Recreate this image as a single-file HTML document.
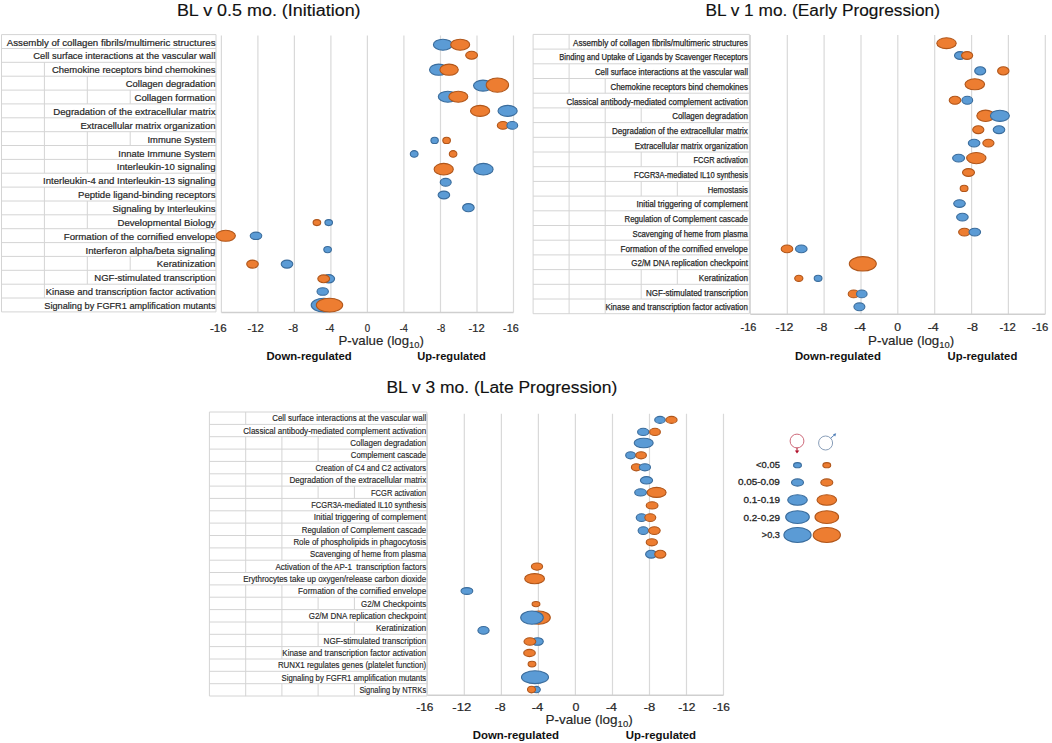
<!DOCTYPE html>
<html><head><meta charset="utf-8"><title>Bubble charts</title>
<style>
html,body{margin:0;padding:0;background:#fff;width:1052px;height:743px;overflow:hidden;}
svg{display:block;font-family:"Liberation Sans", sans-serif;}
</style></head>
<body>
<svg width="1052" height="743" viewBox="0 0 1052 743">
<rect x="0" y="0" width="1052" height="743" fill="#fff"/>
<text x="176.9" y="15.9" textLength="183.7" lengthAdjust="spacingAndGlyphs" font-size="17.3" font-weight="normal" fill="#111" stroke="#111" stroke-width="0.15" >BL v 0.5 mo. (Initiation)</text>
<text x="705.4" y="16.2" textLength="234.5" lengthAdjust="spacingAndGlyphs" font-size="17.3" font-weight="normal" fill="#111" stroke="#111" stroke-width="0.15" >BL v 1 mo. (Early Progression)</text>
<text x="386.4" y="392.8" textLength="230.9" lengthAdjust="spacingAndGlyphs" font-size="17.3" font-weight="normal" fill="#111" stroke="#111" stroke-width="0.15" >BL v 3 mo. (Late Progression)</text>
<line x1="1.5" y1="34.6" x2="216.0" y2="34.6" stroke="#D4D4D4" stroke-width="1"/>
<line x1="1.5" y1="48.5" x2="216.0" y2="48.5" stroke="#D4D4D4" stroke-width="1"/>
<line x1="1.5" y1="62.3" x2="216.0" y2="62.3" stroke="#D4D4D4" stroke-width="1"/>
<line x1="1.5" y1="76.2" x2="216.0" y2="76.2" stroke="#D4D4D4" stroke-width="1"/>
<line x1="1.5" y1="90.1" x2="216.0" y2="90.1" stroke="#D4D4D4" stroke-width="1"/>
<line x1="1.5" y1="103.9" x2="216.0" y2="103.9" stroke="#D4D4D4" stroke-width="1"/>
<line x1="1.5" y1="117.8" x2="216.0" y2="117.8" stroke="#D4D4D4" stroke-width="1"/>
<line x1="1.5" y1="131.7" x2="216.0" y2="131.7" stroke="#D4D4D4" stroke-width="1"/>
<line x1="1.5" y1="145.5" x2="216.0" y2="145.5" stroke="#D4D4D4" stroke-width="1"/>
<line x1="1.5" y1="159.4" x2="216.0" y2="159.4" stroke="#D4D4D4" stroke-width="1"/>
<line x1="1.5" y1="173.2" x2="216.0" y2="173.2" stroke="#D4D4D4" stroke-width="1"/>
<line x1="1.5" y1="187.1" x2="216.0" y2="187.1" stroke="#D4D4D4" stroke-width="1"/>
<line x1="1.5" y1="201.0" x2="216.0" y2="201.0" stroke="#D4D4D4" stroke-width="1"/>
<line x1="1.5" y1="214.8" x2="216.0" y2="214.8" stroke="#D4D4D4" stroke-width="1"/>
<line x1="1.5" y1="228.7" x2="216.0" y2="228.7" stroke="#D4D4D4" stroke-width="1"/>
<line x1="1.5" y1="242.6" x2="216.0" y2="242.6" stroke="#D4D4D4" stroke-width="1"/>
<line x1="1.5" y1="256.4" x2="216.0" y2="256.4" stroke="#D4D4D4" stroke-width="1"/>
<line x1="1.5" y1="270.3" x2="216.0" y2="270.3" stroke="#D4D4D4" stroke-width="1"/>
<line x1="1.5" y1="284.2" x2="216.0" y2="284.2" stroke="#D4D4D4" stroke-width="1"/>
<line x1="1.5" y1="298.0" x2="216.0" y2="298.0" stroke="#D4D4D4" stroke-width="1"/>
<line x1="1.5" y1="311.9" x2="216.0" y2="311.9" stroke="#D4D4D4" stroke-width="1"/>
<line x1="1.5" y1="34.6" x2="1.5" y2="311.9" stroke="#D4D4D4" stroke-width="1"/>
<line x1="216.0" y1="34.6" x2="216.0" y2="311.9" stroke="#D4D4D4" stroke-width="1"/>
<text x="6.8" y="45.6" textLength="208.7" lengthAdjust="spacingAndGlyphs" font-size="9.4" font-weight="normal" fill="#262626" stroke="#262626" stroke-width="0.2" >Assembly of collagen fibrils/multimeric structures</text>
<text x="33.3" y="59.4" textLength="182.2" lengthAdjust="spacingAndGlyphs" font-size="9.4" font-weight="normal" fill="#262626" stroke="#262626" stroke-width="0.2" >Cell surface interactions at the vascular wall</text>
<line x1="44.4" y1="62.3" x2="44.4" y2="76.2" stroke="#D4D4D4" stroke-width="1"/>
<text x="52.0" y="73.3" textLength="163.5" lengthAdjust="spacingAndGlyphs" font-size="9.4" font-weight="normal" fill="#262626" stroke="#262626" stroke-width="0.2" >Chemokine receptors bind chemokines</text>
<line x1="44.4" y1="76.2" x2="44.4" y2="90.1" stroke="#D4D4D4" stroke-width="1"/>
<line x1="87.3" y1="76.2" x2="87.3" y2="90.1" stroke="#D4D4D4" stroke-width="1"/>
<text x="125.8" y="87.2" textLength="89.7" lengthAdjust="spacingAndGlyphs" font-size="9.4" font-weight="normal" fill="#262626" stroke="#262626" stroke-width="0.2" >Collagen degradation</text>
<line x1="44.4" y1="90.1" x2="44.4" y2="103.9" stroke="#D4D4D4" stroke-width="1"/>
<line x1="87.3" y1="90.1" x2="87.3" y2="103.9" stroke="#D4D4D4" stroke-width="1"/>
<line x1="130.2" y1="90.1" x2="130.2" y2="103.9" stroke="#D4D4D4" stroke-width="1"/>
<text x="134.5" y="101.0" textLength="81.0" lengthAdjust="spacingAndGlyphs" font-size="9.4" font-weight="normal" fill="#262626" stroke="#262626" stroke-width="0.2" >Collagen formation</text>
<line x1="44.4" y1="103.9" x2="44.4" y2="117.8" stroke="#D4D4D4" stroke-width="1"/>
<text x="53.3" y="114.9" textLength="162.2" lengthAdjust="spacingAndGlyphs" font-size="9.4" font-weight="normal" fill="#262626" stroke="#262626" stroke-width="0.2" >Degradation of the extracellular matrix</text>
<line x1="44.4" y1="117.8" x2="44.4" y2="131.7" stroke="#D4D4D4" stroke-width="1"/>
<text x="80.5" y="128.8" textLength="135.0" lengthAdjust="spacingAndGlyphs" font-size="9.4" font-weight="normal" fill="#262626" stroke="#262626" stroke-width="0.2" >Extracellular matrix organization</text>
<line x1="44.4" y1="131.7" x2="44.4" y2="145.5" stroke="#D4D4D4" stroke-width="1"/>
<line x1="87.3" y1="131.7" x2="87.3" y2="145.5" stroke="#D4D4D4" stroke-width="1"/>
<line x1="130.2" y1="131.7" x2="130.2" y2="145.5" stroke="#D4D4D4" stroke-width="1"/>
<text x="147.5" y="142.6" textLength="68.0" lengthAdjust="spacingAndGlyphs" font-size="9.4" font-weight="normal" fill="#262626" stroke="#262626" stroke-width="0.2" >Immune System</text>
<line x1="44.4" y1="145.5" x2="44.4" y2="159.4" stroke="#D4D4D4" stroke-width="1"/>
<line x1="87.3" y1="145.5" x2="87.3" y2="159.4" stroke="#D4D4D4" stroke-width="1"/>
<text x="118.3" y="156.5" textLength="97.2" lengthAdjust="spacingAndGlyphs" font-size="9.4" font-weight="normal" fill="#262626" stroke="#262626" stroke-width="0.2" >Innate Immune System</text>
<line x1="44.4" y1="159.4" x2="44.4" y2="173.2" stroke="#D4D4D4" stroke-width="1"/>
<line x1="87.3" y1="159.4" x2="87.3" y2="173.2" stroke="#D4D4D4" stroke-width="1"/>
<text x="116.8" y="170.3" textLength="98.7" lengthAdjust="spacingAndGlyphs" font-size="9.4" font-weight="normal" fill="#262626" stroke="#262626" stroke-width="0.2" >Interleukin-10 signaling</text>
<text x="43.0" y="184.2" textLength="172.5" lengthAdjust="spacingAndGlyphs" font-size="9.4" font-weight="normal" fill="#262626" stroke="#262626" stroke-width="0.2" >Interleukin-4 and Interleukin-13 signaling</text>
<line x1="44.4" y1="187.1" x2="44.4" y2="201.0" stroke="#D4D4D4" stroke-width="1"/>
<text x="78.0" y="198.1" textLength="137.5" lengthAdjust="spacingAndGlyphs" font-size="9.4" font-weight="normal" fill="#262626" stroke="#262626" stroke-width="0.2" >Peptide ligand-binding receptors</text>
<line x1="44.4" y1="201.0" x2="44.4" y2="214.8" stroke="#D4D4D4" stroke-width="1"/>
<line x1="87.3" y1="201.0" x2="87.3" y2="214.8" stroke="#D4D4D4" stroke-width="1"/>
<text x="112.5" y="211.9" textLength="103.0" lengthAdjust="spacingAndGlyphs" font-size="9.4" font-weight="normal" fill="#262626" stroke="#262626" stroke-width="0.2" >Signaling by Interleukins</text>
<line x1="44.4" y1="214.8" x2="44.4" y2="228.7" stroke="#D4D4D4" stroke-width="1"/>
<line x1="87.3" y1="214.8" x2="87.3" y2="228.7" stroke="#D4D4D4" stroke-width="1"/>
<text x="117.5" y="225.8" textLength="98.0" lengthAdjust="spacingAndGlyphs" font-size="9.4" font-weight="normal" fill="#262626" stroke="#262626" stroke-width="0.2" >Developmental Biology</text>
<line x1="44.4" y1="228.7" x2="44.4" y2="242.6" stroke="#D4D4D4" stroke-width="1"/>
<text x="63.8" y="239.7" textLength="151.7" lengthAdjust="spacingAndGlyphs" font-size="9.4" font-weight="normal" fill="#262626" stroke="#262626" stroke-width="0.2" >Formation of the cornified envelope</text>
<line x1="44.4" y1="242.6" x2="44.4" y2="256.4" stroke="#D4D4D4" stroke-width="1"/>
<text x="85.5" y="253.5" textLength="130.0" lengthAdjust="spacingAndGlyphs" font-size="9.4" font-weight="normal" fill="#262626" stroke="#262626" stroke-width="0.2" >Interferon alpha/beta signaling</text>
<line x1="44.4" y1="256.4" x2="44.4" y2="270.3" stroke="#D4D4D4" stroke-width="1"/>
<line x1="87.3" y1="256.4" x2="87.3" y2="270.3" stroke="#D4D4D4" stroke-width="1"/>
<line x1="130.2" y1="256.4" x2="130.2" y2="270.3" stroke="#D4D4D4" stroke-width="1"/>
<text x="156.8" y="267.4" textLength="58.7" lengthAdjust="spacingAndGlyphs" font-size="9.4" font-weight="normal" fill="#262626" stroke="#262626" stroke-width="0.2" >Keratinization</text>
<line x1="44.4" y1="270.3" x2="44.4" y2="284.2" stroke="#D4D4D4" stroke-width="1"/>
<line x1="87.3" y1="270.3" x2="87.3" y2="284.2" stroke="#D4D4D4" stroke-width="1"/>
<text x="94.3" y="281.3" textLength="121.2" lengthAdjust="spacingAndGlyphs" font-size="9.4" font-weight="normal" fill="#262626" stroke="#262626" stroke-width="0.2" >NGF-stimulated transcription</text>
<line x1="44.4" y1="284.2" x2="44.4" y2="298.0" stroke="#D4D4D4" stroke-width="1"/>
<text x="45.8" y="295.1" textLength="169.7" lengthAdjust="spacingAndGlyphs" font-size="9.4" font-weight="normal" fill="#262626" stroke="#262626" stroke-width="0.2" >Kinase and transcription factor activation</text>
<text x="44.3" y="309.0" textLength="171.2" lengthAdjust="spacingAndGlyphs" font-size="9.4" font-weight="normal" fill="#262626" stroke="#262626" stroke-width="0.2" >Signaling by FGFR1 amplification mutants</text>
<line x1="533.1" y1="34.4" x2="749.4" y2="34.4" stroke="#D4D4D4" stroke-width="1"/>
<line x1="533.1" y1="49.1" x2="749.4" y2="49.1" stroke="#D4D4D4" stroke-width="1"/>
<line x1="533.1" y1="63.8" x2="749.4" y2="63.8" stroke="#D4D4D4" stroke-width="1"/>
<line x1="533.1" y1="78.5" x2="749.4" y2="78.5" stroke="#D4D4D4" stroke-width="1"/>
<line x1="533.1" y1="93.2" x2="749.4" y2="93.2" stroke="#D4D4D4" stroke-width="1"/>
<line x1="533.1" y1="107.9" x2="749.4" y2="107.9" stroke="#D4D4D4" stroke-width="1"/>
<line x1="533.1" y1="122.6" x2="749.4" y2="122.6" stroke="#D4D4D4" stroke-width="1"/>
<line x1="533.1" y1="137.3" x2="749.4" y2="137.3" stroke="#D4D4D4" stroke-width="1"/>
<line x1="533.1" y1="152.0" x2="749.4" y2="152.0" stroke="#D4D4D4" stroke-width="1"/>
<line x1="533.1" y1="166.7" x2="749.4" y2="166.7" stroke="#D4D4D4" stroke-width="1"/>
<line x1="533.1" y1="181.4" x2="749.4" y2="181.4" stroke="#D4D4D4" stroke-width="1"/>
<line x1="533.1" y1="196.1" x2="749.4" y2="196.1" stroke="#D4D4D4" stroke-width="1"/>
<line x1="533.1" y1="210.8" x2="749.4" y2="210.8" stroke="#D4D4D4" stroke-width="1"/>
<line x1="533.1" y1="225.5" x2="749.4" y2="225.5" stroke="#D4D4D4" stroke-width="1"/>
<line x1="533.1" y1="240.2" x2="749.4" y2="240.2" stroke="#D4D4D4" stroke-width="1"/>
<line x1="533.1" y1="254.9" x2="749.4" y2="254.9" stroke="#D4D4D4" stroke-width="1"/>
<line x1="533.1" y1="269.6" x2="749.4" y2="269.6" stroke="#D4D4D4" stroke-width="1"/>
<line x1="533.1" y1="284.3" x2="749.4" y2="284.3" stroke="#D4D4D4" stroke-width="1"/>
<line x1="533.1" y1="299.0" x2="749.4" y2="299.0" stroke="#D4D4D4" stroke-width="1"/>
<line x1="533.1" y1="313.7" x2="749.4" y2="313.7" stroke="#D4D4D4" stroke-width="1"/>
<line x1="533.1" y1="34.4" x2="533.1" y2="313.7" stroke="#D4D4D4" stroke-width="1"/>
<line x1="749.4" y1="34.4" x2="749.4" y2="313.7" stroke="#D4D4D4" stroke-width="1"/>
<line x1="569.1" y1="34.4" x2="569.1" y2="49.1" stroke="#D4D4D4" stroke-width="1"/>
<text x="573.1" y="45.7" textLength="174.8" lengthAdjust="spacingAndGlyphs" font-size="9.1" font-weight="normal" fill="#262626" stroke="#262626" stroke-width="0.25" >Assembly of collagen fibrils/multimeric structures</text>
<text x="559.3" y="60.4" textLength="188.6" lengthAdjust="spacingAndGlyphs" font-size="9.1" font-weight="normal" fill="#262626" stroke="#262626" stroke-width="0.25" >Binding and Uptake of Ligands by Scavenger Receptors</text>
<line x1="569.1" y1="63.8" x2="569.1" y2="78.5" stroke="#D4D4D4" stroke-width="1"/>
<text x="594.9" y="75.1" textLength="153.0" lengthAdjust="spacingAndGlyphs" font-size="9.1" font-weight="normal" fill="#262626" stroke="#262626" stroke-width="0.25" >Cell surface interactions at the vascular wall</text>
<line x1="569.1" y1="78.5" x2="569.1" y2="93.2" stroke="#D4D4D4" stroke-width="1"/>
<line x1="605.2" y1="78.5" x2="605.2" y2="93.2" stroke="#D4D4D4" stroke-width="1"/>
<text x="610.4" y="89.8" textLength="137.5" lengthAdjust="spacingAndGlyphs" font-size="9.1" font-weight="normal" fill="#262626" stroke="#262626" stroke-width="0.25" >Chemokine receptors bind chemokines</text>
<text x="566.4" y="104.5" textLength="181.5" lengthAdjust="spacingAndGlyphs" font-size="9.1" font-weight="normal" fill="#262626" stroke="#262626" stroke-width="0.25" >Classical antibody-mediated complement activation</text>
<line x1="569.1" y1="107.9" x2="569.1" y2="122.6" stroke="#D4D4D4" stroke-width="1"/>
<line x1="605.2" y1="107.9" x2="605.2" y2="122.6" stroke="#D4D4D4" stroke-width="1"/>
<line x1="641.2" y1="107.9" x2="641.2" y2="122.6" stroke="#D4D4D4" stroke-width="1"/>
<text x="672.2" y="119.2" textLength="75.7" lengthAdjust="spacingAndGlyphs" font-size="9.1" font-weight="normal" fill="#262626" stroke="#262626" stroke-width="0.25" >Collagen degradation</text>
<line x1="569.1" y1="122.6" x2="569.1" y2="137.3" stroke="#D4D4D4" stroke-width="1"/>
<line x1="605.2" y1="122.6" x2="605.2" y2="137.3" stroke="#D4D4D4" stroke-width="1"/>
<text x="612.0" y="133.9" textLength="135.9" lengthAdjust="spacingAndGlyphs" font-size="9.1" font-weight="normal" fill="#262626" stroke="#262626" stroke-width="0.25" >Degradation of the extracellular matrix</text>
<line x1="569.1" y1="137.3" x2="569.1" y2="152.0" stroke="#D4D4D4" stroke-width="1"/>
<line x1="605.2" y1="137.3" x2="605.2" y2="152.0" stroke="#D4D4D4" stroke-width="1"/>
<text x="634.8" y="148.6" textLength="113.1" lengthAdjust="spacingAndGlyphs" font-size="9.1" font-weight="normal" fill="#262626" stroke="#262626" stroke-width="0.25" >Extracellular matrix organization</text>
<line x1="569.1" y1="152.0" x2="569.1" y2="166.7" stroke="#D4D4D4" stroke-width="1"/>
<line x1="605.2" y1="152.0" x2="605.2" y2="166.7" stroke="#D4D4D4" stroke-width="1"/>
<line x1="641.2" y1="152.0" x2="641.2" y2="166.7" stroke="#D4D4D4" stroke-width="1"/>
<line x1="677.3" y1="152.0" x2="677.3" y2="166.7" stroke="#D4D4D4" stroke-width="1"/>
<text x="693.5" y="163.3" textLength="54.4" lengthAdjust="spacingAndGlyphs" font-size="9.1" font-weight="normal" fill="#262626" stroke="#262626" stroke-width="0.25" >FCGR activation</text>
<line x1="569.1" y1="166.7" x2="569.1" y2="181.4" stroke="#D4D4D4" stroke-width="1"/>
<line x1="605.2" y1="166.7" x2="605.2" y2="181.4" stroke="#D4D4D4" stroke-width="1"/>
<text x="634.1" y="178.0" textLength="113.8" lengthAdjust="spacingAndGlyphs" font-size="9.1" font-weight="normal" fill="#262626" stroke="#262626" stroke-width="0.25" >FCGR3A-mediated IL10 synthesis</text>
<line x1="569.1" y1="181.4" x2="569.1" y2="196.1" stroke="#D4D4D4" stroke-width="1"/>
<line x1="605.2" y1="181.4" x2="605.2" y2="196.1" stroke="#D4D4D4" stroke-width="1"/>
<line x1="641.2" y1="181.4" x2="641.2" y2="196.1" stroke="#D4D4D4" stroke-width="1"/>
<line x1="677.3" y1="181.4" x2="677.3" y2="196.1" stroke="#D4D4D4" stroke-width="1"/>
<text x="707.8" y="192.7" textLength="40.1" lengthAdjust="spacingAndGlyphs" font-size="9.1" font-weight="normal" fill="#262626" stroke="#262626" stroke-width="0.25" >Hemostasis</text>
<line x1="569.1" y1="196.1" x2="569.1" y2="210.8" stroke="#D4D4D4" stroke-width="1"/>
<line x1="605.2" y1="196.1" x2="605.2" y2="210.8" stroke="#D4D4D4" stroke-width="1"/>
<text x="636.5" y="207.4" textLength="111.4" lengthAdjust="spacingAndGlyphs" font-size="9.1" font-weight="normal" fill="#262626" stroke="#262626" stroke-width="0.25" >Initial triggering of complement</text>
<line x1="569.1" y1="210.8" x2="569.1" y2="225.5" stroke="#D4D4D4" stroke-width="1"/>
<line x1="605.2" y1="210.8" x2="605.2" y2="225.5" stroke="#D4D4D4" stroke-width="1"/>
<text x="624.6" y="222.1" textLength="123.3" lengthAdjust="spacingAndGlyphs" font-size="9.1" font-weight="normal" fill="#262626" stroke="#262626" stroke-width="0.25" >Regulation of Complement cascade</text>
<line x1="569.1" y1="225.5" x2="569.1" y2="240.2" stroke="#D4D4D4" stroke-width="1"/>
<line x1="605.2" y1="225.5" x2="605.2" y2="240.2" stroke="#D4D4D4" stroke-width="1"/>
<text x="632.5" y="236.8" textLength="115.4" lengthAdjust="spacingAndGlyphs" font-size="9.1" font-weight="normal" fill="#262626" stroke="#262626" stroke-width="0.25" >Scavenging of heme from plasma</text>
<line x1="569.1" y1="240.2" x2="569.1" y2="254.9" stroke="#D4D4D4" stroke-width="1"/>
<line x1="605.2" y1="240.2" x2="605.2" y2="254.9" stroke="#D4D4D4" stroke-width="1"/>
<text x="620.6" y="251.5" textLength="127.3" lengthAdjust="spacingAndGlyphs" font-size="9.1" font-weight="normal" fill="#262626" stroke="#262626" stroke-width="0.25" >Formation of the cornified envelope</text>
<line x1="569.1" y1="254.9" x2="569.1" y2="269.6" stroke="#D4D4D4" stroke-width="1"/>
<line x1="605.2" y1="254.9" x2="605.2" y2="269.6" stroke="#D4D4D4" stroke-width="1"/>
<text x="631.3" y="266.2" textLength="116.6" lengthAdjust="spacingAndGlyphs" font-size="9.1" font-weight="normal" fill="#262626" stroke="#262626" stroke-width="0.25" >G2/M DNA replication checkpoint</text>
<line x1="569.1" y1="269.6" x2="569.1" y2="284.3" stroke="#D4D4D4" stroke-width="1"/>
<line x1="605.2" y1="269.6" x2="605.2" y2="284.3" stroke="#D4D4D4" stroke-width="1"/>
<line x1="641.2" y1="269.6" x2="641.2" y2="284.3" stroke="#D4D4D4" stroke-width="1"/>
<line x1="677.3" y1="269.6" x2="677.3" y2="284.3" stroke="#D4D4D4" stroke-width="1"/>
<text x="698.8" y="280.9" textLength="49.1" lengthAdjust="spacingAndGlyphs" font-size="9.1" font-weight="normal" fill="#262626" stroke="#262626" stroke-width="0.25" >Keratinization</text>
<line x1="569.1" y1="284.3" x2="569.1" y2="299.0" stroke="#D4D4D4" stroke-width="1"/>
<line x1="605.2" y1="284.3" x2="605.2" y2="299.0" stroke="#D4D4D4" stroke-width="1"/>
<line x1="641.2" y1="284.3" x2="641.2" y2="299.0" stroke="#D4D4D4" stroke-width="1"/>
<text x="646.0" y="295.6" textLength="101.9" lengthAdjust="spacingAndGlyphs" font-size="9.1" font-weight="normal" fill="#262626" stroke="#262626" stroke-width="0.25" >NGF-stimulated transcription</text>
<line x1="569.1" y1="299.0" x2="569.1" y2="313.7" stroke="#D4D4D4" stroke-width="1"/>
<line x1="605.2" y1="299.0" x2="605.2" y2="313.7" stroke="#D4D4D4" stroke-width="1"/>
<text x="605.6" y="310.3" textLength="142.3" lengthAdjust="spacingAndGlyphs" font-size="9.1" font-weight="normal" fill="#262626" stroke="#262626" stroke-width="0.25" >Kinase and transcription factor activation</text>
<line x1="209.4" y1="412.0" x2="426.9" y2="412.0" stroke="#D4D4D4" stroke-width="1"/>
<line x1="209.4" y1="424.4" x2="426.9" y2="424.4" stroke="#D4D4D4" stroke-width="1"/>
<line x1="209.4" y1="436.7" x2="426.9" y2="436.7" stroke="#D4D4D4" stroke-width="1"/>
<line x1="209.4" y1="449.1" x2="426.9" y2="449.1" stroke="#D4D4D4" stroke-width="1"/>
<line x1="209.4" y1="461.4" x2="426.9" y2="461.4" stroke="#D4D4D4" stroke-width="1"/>
<line x1="209.4" y1="473.8" x2="426.9" y2="473.8" stroke="#D4D4D4" stroke-width="1"/>
<line x1="209.4" y1="486.1" x2="426.9" y2="486.1" stroke="#D4D4D4" stroke-width="1"/>
<line x1="209.4" y1="498.4" x2="426.9" y2="498.4" stroke="#D4D4D4" stroke-width="1"/>
<line x1="209.4" y1="510.8" x2="426.9" y2="510.8" stroke="#D4D4D4" stroke-width="1"/>
<line x1="209.4" y1="523.1" x2="426.9" y2="523.1" stroke="#D4D4D4" stroke-width="1"/>
<line x1="209.4" y1="535.5" x2="426.9" y2="535.5" stroke="#D4D4D4" stroke-width="1"/>
<line x1="209.4" y1="547.9" x2="426.9" y2="547.9" stroke="#D4D4D4" stroke-width="1"/>
<line x1="209.4" y1="560.2" x2="426.9" y2="560.2" stroke="#D4D4D4" stroke-width="1"/>
<line x1="209.4" y1="572.5" x2="426.9" y2="572.5" stroke="#D4D4D4" stroke-width="1"/>
<line x1="209.4" y1="584.9" x2="426.9" y2="584.9" stroke="#D4D4D4" stroke-width="1"/>
<line x1="209.4" y1="597.2" x2="426.9" y2="597.2" stroke="#D4D4D4" stroke-width="1"/>
<line x1="209.4" y1="609.6" x2="426.9" y2="609.6" stroke="#D4D4D4" stroke-width="1"/>
<line x1="209.4" y1="622.0" x2="426.9" y2="622.0" stroke="#D4D4D4" stroke-width="1"/>
<line x1="209.4" y1="634.3" x2="426.9" y2="634.3" stroke="#D4D4D4" stroke-width="1"/>
<line x1="209.4" y1="646.6" x2="426.9" y2="646.6" stroke="#D4D4D4" stroke-width="1"/>
<line x1="209.4" y1="659.0" x2="426.9" y2="659.0" stroke="#D4D4D4" stroke-width="1"/>
<line x1="209.4" y1="671.3" x2="426.9" y2="671.3" stroke="#D4D4D4" stroke-width="1"/>
<line x1="209.4" y1="683.7" x2="426.9" y2="683.7" stroke="#D4D4D4" stroke-width="1"/>
<line x1="209.4" y1="696.0" x2="426.9" y2="696.0" stroke="#D4D4D4" stroke-width="1"/>
<line x1="209.4" y1="412.0" x2="209.4" y2="696.0" stroke="#D4D4D4" stroke-width="1"/>
<line x1="426.9" y1="412.0" x2="426.9" y2="696.0" stroke="#D4D4D4" stroke-width="1"/>
<line x1="245.7" y1="412.0" x2="245.7" y2="424.4" stroke="#D4D4D4" stroke-width="1"/>
<text x="272.2" y="421.4" textLength="154.0" lengthAdjust="spacingAndGlyphs" font-size="8.5" font-weight="normal" fill="#262626" stroke="#262626" stroke-width="0.15" >Cell surface interactions at the vascular wall</text>
<text x="243.3" y="433.7" textLength="182.9" lengthAdjust="spacingAndGlyphs" font-size="8.5" font-weight="normal" fill="#262626" stroke="#262626" stroke-width="0.15" >Classical antibody-mediated complement activation</text>
<line x1="245.7" y1="436.7" x2="245.7" y2="449.1" stroke="#D4D4D4" stroke-width="1"/>
<line x1="281.9" y1="436.7" x2="281.9" y2="449.1" stroke="#D4D4D4" stroke-width="1"/>
<line x1="318.1" y1="436.7" x2="318.1" y2="449.1" stroke="#D4D4D4" stroke-width="1"/>
<text x="350.3" y="446.1" textLength="75.9" lengthAdjust="spacingAndGlyphs" font-size="8.5" font-weight="normal" fill="#262626" stroke="#262626" stroke-width="0.15" >Collagen degradation</text>
<line x1="245.7" y1="449.1" x2="245.7" y2="461.4" stroke="#D4D4D4" stroke-width="1"/>
<line x1="281.9" y1="449.1" x2="281.9" y2="461.4" stroke="#D4D4D4" stroke-width="1"/>
<line x1="318.1" y1="449.1" x2="318.1" y2="461.4" stroke="#D4D4D4" stroke-width="1"/>
<text x="350.8" y="458.4" textLength="75.4" lengthAdjust="spacingAndGlyphs" font-size="8.5" font-weight="normal" fill="#262626" stroke="#262626" stroke-width="0.15" >Complement cascade</text>
<line x1="245.7" y1="461.4" x2="245.7" y2="473.8" stroke="#D4D4D4" stroke-width="1"/>
<line x1="281.9" y1="461.4" x2="281.9" y2="473.8" stroke="#D4D4D4" stroke-width="1"/>
<text x="315.4" y="470.8" textLength="110.8" lengthAdjust="spacingAndGlyphs" font-size="8.5" font-weight="normal" fill="#262626" stroke="#262626" stroke-width="0.15" >Creation of C4 and C2 activators</text>
<line x1="245.7" y1="473.8" x2="245.7" y2="486.1" stroke="#D4D4D4" stroke-width="1"/>
<line x1="281.9" y1="473.8" x2="281.9" y2="486.1" stroke="#D4D4D4" stroke-width="1"/>
<text x="289.5" y="483.1" textLength="136.7" lengthAdjust="spacingAndGlyphs" font-size="8.5" font-weight="normal" fill="#262626" stroke="#262626" stroke-width="0.15" >Degradation of the extracellular matrix</text>
<line x1="245.7" y1="486.1" x2="245.7" y2="498.5" stroke="#D4D4D4" stroke-width="1"/>
<line x1="281.9" y1="486.1" x2="281.9" y2="498.5" stroke="#D4D4D4" stroke-width="1"/>
<line x1="318.1" y1="486.1" x2="318.1" y2="498.5" stroke="#D4D4D4" stroke-width="1"/>
<line x1="354.4" y1="486.1" x2="354.4" y2="498.5" stroke="#D4D4D4" stroke-width="1"/>
<text x="371.0" y="495.5" textLength="55.2" lengthAdjust="spacingAndGlyphs" font-size="8.5" font-weight="normal" fill="#262626" stroke="#262626" stroke-width="0.15" >FCGR activation</text>
<line x1="245.7" y1="498.4" x2="245.7" y2="510.8" stroke="#D4D4D4" stroke-width="1"/>
<line x1="281.9" y1="498.4" x2="281.9" y2="510.8" stroke="#D4D4D4" stroke-width="1"/>
<text x="311.2" y="507.8" textLength="115.0" lengthAdjust="spacingAndGlyphs" font-size="8.5" font-weight="normal" fill="#262626" stroke="#262626" stroke-width="0.15" >FCGR3A-mediated IL10 synthesis</text>
<line x1="245.7" y1="510.8" x2="245.7" y2="523.1" stroke="#D4D4D4" stroke-width="1"/>
<line x1="281.9" y1="510.8" x2="281.9" y2="523.1" stroke="#D4D4D4" stroke-width="1"/>
<text x="313.7" y="520.1" textLength="112.5" lengthAdjust="spacingAndGlyphs" font-size="8.5" font-weight="normal" fill="#262626" stroke="#262626" stroke-width="0.15" >Initial triggering of complement</text>
<line x1="245.7" y1="523.1" x2="245.7" y2="535.5" stroke="#D4D4D4" stroke-width="1"/>
<line x1="281.9" y1="523.1" x2="281.9" y2="535.5" stroke="#D4D4D4" stroke-width="1"/>
<text x="301.8" y="532.5" textLength="124.4" lengthAdjust="spacingAndGlyphs" font-size="8.5" font-weight="normal" fill="#262626" stroke="#262626" stroke-width="0.15" >Regulation of Complement cascade</text>
<line x1="245.7" y1="535.5" x2="245.7" y2="547.9" stroke="#D4D4D4" stroke-width="1"/>
<line x1="281.9" y1="535.5" x2="281.9" y2="547.9" stroke="#D4D4D4" stroke-width="1"/>
<text x="293.4" y="544.9" textLength="132.8" lengthAdjust="spacingAndGlyphs" font-size="8.5" font-weight="normal" fill="#262626" stroke="#262626" stroke-width="0.15" >Role of phospholipids in phagocytosis</text>
<line x1="245.7" y1="547.9" x2="245.7" y2="560.2" stroke="#D4D4D4" stroke-width="1"/>
<line x1="281.9" y1="547.9" x2="281.9" y2="560.2" stroke="#D4D4D4" stroke-width="1"/>
<text x="310.0" y="557.2" textLength="116.2" lengthAdjust="spacingAndGlyphs" font-size="8.5" font-weight="normal" fill="#262626" stroke="#262626" stroke-width="0.15" >Scavenging of heme from plasma</text>
<line x1="245.7" y1="560.2" x2="245.7" y2="572.6" stroke="#D4D4D4" stroke-width="1"/>
<text x="275.4" y="569.6" textLength="150.8" lengthAdjust="spacingAndGlyphs" font-size="8.5" font-weight="normal" fill="#262626" stroke="#262626" stroke-width="0.15" >Activation of the AP-1&#160; transcription factors</text>
<text x="243.3" y="581.9" textLength="182.9" lengthAdjust="spacingAndGlyphs" font-size="8.5" font-weight="normal" fill="#262626" stroke="#262626" stroke-width="0.15" >Erythrocytes take up oxygen/release carbon dioxide</text>
<line x1="245.7" y1="584.9" x2="245.7" y2="597.2" stroke="#D4D4D4" stroke-width="1"/>
<line x1="281.9" y1="584.9" x2="281.9" y2="597.2" stroke="#D4D4D4" stroke-width="1"/>
<text x="298.1" y="594.2" textLength="128.1" lengthAdjust="spacingAndGlyphs" font-size="8.5" font-weight="normal" fill="#262626" stroke="#262626" stroke-width="0.15" >Formation of the cornified envelope</text>
<line x1="245.7" y1="597.2" x2="245.7" y2="609.6" stroke="#D4D4D4" stroke-width="1"/>
<line x1="281.9" y1="597.2" x2="281.9" y2="609.6" stroke="#D4D4D4" stroke-width="1"/>
<line x1="318.1" y1="597.2" x2="318.1" y2="609.6" stroke="#D4D4D4" stroke-width="1"/>
<line x1="354.4" y1="597.2" x2="354.4" y2="609.6" stroke="#D4D4D4" stroke-width="1"/>
<text x="361.1" y="606.6" textLength="65.1" lengthAdjust="spacingAndGlyphs" font-size="8.5" font-weight="normal" fill="#262626" stroke="#262626" stroke-width="0.15" >G2/M Checkpoints</text>
<line x1="245.7" y1="609.6" x2="245.7" y2="622.0" stroke="#D4D4D4" stroke-width="1"/>
<line x1="281.9" y1="609.6" x2="281.9" y2="622.0" stroke="#D4D4D4" stroke-width="1"/>
<text x="308.7" y="619.0" textLength="117.5" lengthAdjust="spacingAndGlyphs" font-size="8.5" font-weight="normal" fill="#262626" stroke="#262626" stroke-width="0.15" >G2/M DNA replication checkpoint</text>
<line x1="245.7" y1="622.0" x2="245.7" y2="634.3" stroke="#D4D4D4" stroke-width="1"/>
<line x1="281.9" y1="622.0" x2="281.9" y2="634.3" stroke="#D4D4D4" stroke-width="1"/>
<line x1="318.1" y1="622.0" x2="318.1" y2="634.3" stroke="#D4D4D4" stroke-width="1"/>
<line x1="354.4" y1="622.0" x2="354.4" y2="634.3" stroke="#D4D4D4" stroke-width="1"/>
<text x="376.0" y="631.3" textLength="50.2" lengthAdjust="spacingAndGlyphs" font-size="8.5" font-weight="normal" fill="#262626" stroke="#262626" stroke-width="0.15" >Keratinization</text>
<line x1="245.7" y1="634.3" x2="245.7" y2="646.6" stroke="#D4D4D4" stroke-width="1"/>
<line x1="281.9" y1="634.3" x2="281.9" y2="646.6" stroke="#D4D4D4" stroke-width="1"/>
<line x1="318.1" y1="634.3" x2="318.1" y2="646.6" stroke="#D4D4D4" stroke-width="1"/>
<text x="323.6" y="643.6" textLength="102.6" lengthAdjust="spacingAndGlyphs" font-size="8.5" font-weight="normal" fill="#262626" stroke="#262626" stroke-width="0.15" >NGF-stimulated transcription</text>
<line x1="245.7" y1="646.6" x2="245.7" y2="659.0" stroke="#D4D4D4" stroke-width="1"/>
<line x1="281.9" y1="646.6" x2="281.9" y2="659.0" stroke="#D4D4D4" stroke-width="1"/>
<text x="282.3" y="656.0" textLength="143.9" lengthAdjust="spacingAndGlyphs" font-size="8.5" font-weight="normal" fill="#262626" stroke="#262626" stroke-width="0.15" >Kinase and transcription factor activation</text>
<line x1="245.7" y1="659.0" x2="245.7" y2="671.4" stroke="#D4D4D4" stroke-width="1"/>
<text x="277.9" y="668.4" textLength="148.3" lengthAdjust="spacingAndGlyphs" font-size="8.5" font-weight="normal" fill="#262626" stroke="#262626" stroke-width="0.15" >RUNX1 regulates genes (platelet function)</text>
<line x1="245.7" y1="671.3" x2="245.7" y2="683.7" stroke="#D4D4D4" stroke-width="1"/>
<text x="281.6" y="680.7" textLength="144.6" lengthAdjust="spacingAndGlyphs" font-size="8.5" font-weight="normal" fill="#262626" stroke="#262626" stroke-width="0.15" >Signaling by FGFR1 amplification mutants</text>
<line x1="245.7" y1="683.7" x2="245.7" y2="696.1" stroke="#D4D4D4" stroke-width="1"/>
<line x1="281.9" y1="683.7" x2="281.9" y2="696.1" stroke="#D4D4D4" stroke-width="1"/>
<line x1="318.1" y1="683.7" x2="318.1" y2="696.1" stroke="#D4D4D4" stroke-width="1"/>
<line x1="354.4" y1="683.7" x2="354.4" y2="696.1" stroke="#D4D4D4" stroke-width="1"/>
<text x="359.4" y="693.1" textLength="66.8" lengthAdjust="spacingAndGlyphs" font-size="8.5" font-weight="normal" fill="#262626" stroke="#262626" stroke-width="0.15" >Signaling by NTRKs</text>
<line x1="221.4" y1="35.5" x2="221.4" y2="312.4" stroke="#D9D9D9" stroke-width="1.2"/>
<line x1="257.9" y1="35.5" x2="257.9" y2="312.4" stroke="#D9D9D9" stroke-width="1.2"/>
<line x1="294.4" y1="35.5" x2="294.4" y2="312.4" stroke="#D9D9D9" stroke-width="1.2"/>
<line x1="330.9" y1="35.5" x2="330.9" y2="312.4" stroke="#D9D9D9" stroke-width="1.2"/>
<line x1="367.4" y1="35.5" x2="367.4" y2="312.4" stroke="#D9D9D9" stroke-width="1.2"/>
<line x1="403.9" y1="35.5" x2="403.9" y2="312.4" stroke="#D9D9D9" stroke-width="1.2"/>
<line x1="440.5" y1="35.5" x2="440.5" y2="312.4" stroke="#D9D9D9" stroke-width="1.2"/>
<line x1="477.0" y1="35.5" x2="477.0" y2="312.4" stroke="#D9D9D9" stroke-width="1.2"/>
<line x1="513.5" y1="35.5" x2="513.5" y2="312.4" stroke="#D9D9D9" stroke-width="1.2"/>
<line x1="221.4" y1="312.4" x2="513.5" y2="312.4" stroke="#CFCFCF" stroke-width="1.5"/>
<ellipse cx="442.9" cy="44.7" rx="9.5" ry="5.5" fill="#5B9BD5" stroke="#3A6C9C" stroke-width="1.1"/>
<ellipse cx="460.2" cy="44.7" rx="9.5" ry="5.5" fill="#ED7D31" stroke="#B0561A" stroke-width="1.1"/>
<ellipse cx="471.6" cy="55.2" rx="5.9" ry="4.0" fill="#ED7D31" stroke="#B0561A" stroke-width="1.1"/>
<ellipse cx="438.7" cy="69.7" rx="9.2" ry="5.6" fill="#5B9BD5" stroke="#3A6C9C" stroke-width="1.1"/>
<ellipse cx="449.1" cy="69.7" rx="9.2" ry="5.6" fill="#ED7D31" stroke="#B0561A" stroke-width="1.1"/>
<ellipse cx="483.0" cy="85.6" rx="9.5" ry="5.5" fill="#5B9BD5" stroke="#3A6C9C" stroke-width="1.1"/>
<ellipse cx="497.4" cy="85.1" rx="11.2" ry="7.1" fill="#ED7D31" stroke="#B0561A" stroke-width="1.1"/>
<ellipse cx="447.8" cy="96.7" rx="9.5" ry="5.5" fill="#5B9BD5" stroke="#3A6C9C" stroke-width="1.1"/>
<ellipse cx="458.3" cy="96.7" rx="9.5" ry="5.5" fill="#ED7D31" stroke="#B0561A" stroke-width="1.1"/>
<ellipse cx="480.1" cy="110.9" rx="9.6" ry="5.5" fill="#ED7D31" stroke="#B0561A" stroke-width="1.1"/>
<ellipse cx="507.6" cy="110.9" rx="9.6" ry="5.5" fill="#5B9BD5" stroke="#3A6C9C" stroke-width="1.1"/>
<ellipse cx="502.9" cy="125.4" rx="5.6" ry="3.9" fill="#ED7D31" stroke="#B0561A" stroke-width="1.1"/>
<ellipse cx="512.3" cy="125.4" rx="5.4" ry="3.9" fill="#5B9BD5" stroke="#3A6C9C" stroke-width="1.1"/>
<ellipse cx="434.6" cy="140.4" rx="3.7" ry="3.1" fill="#5B9BD5" stroke="#3A6C9C" stroke-width="1.1"/>
<ellipse cx="446.6" cy="140.4" rx="3.8" ry="3.1" fill="#ED7D31" stroke="#B0561A" stroke-width="1.1"/>
<ellipse cx="414.2" cy="153.9" rx="3.9" ry="3.3" fill="#5B9BD5" stroke="#3A6C9C" stroke-width="1.1"/>
<ellipse cx="453.1" cy="153.9" rx="3.8" ry="3.3" fill="#ED7D31" stroke="#B0561A" stroke-width="1.1"/>
<ellipse cx="443.7" cy="169.2" rx="9.6" ry="5.8" fill="#ED7D31" stroke="#B0561A" stroke-width="1.1"/>
<ellipse cx="483.4" cy="169.2" rx="9.7" ry="5.8" fill="#5B9BD5" stroke="#3A6C9C" stroke-width="1.1"/>
<ellipse cx="445.7" cy="182.3" rx="5.5" ry="3.9" fill="#5B9BD5" stroke="#3A6C9C" stroke-width="1.1"/>
<ellipse cx="443.9" cy="195.0" rx="5.8" ry="3.9" fill="#5B9BD5" stroke="#3A6C9C" stroke-width="1.1"/>
<ellipse cx="468.4" cy="207.7" rx="5.8" ry="4.1" fill="#5B9BD5" stroke="#3A6C9C" stroke-width="1.1"/>
<ellipse cx="316.9" cy="222.6" rx="3.8" ry="3.0" fill="#ED7D31" stroke="#B0561A" stroke-width="1.1"/>
<ellipse cx="328.7" cy="222.6" rx="3.8" ry="3.0" fill="#5B9BD5" stroke="#3A6C9C" stroke-width="1.1"/>
<ellipse cx="225.7" cy="235.8" rx="9.7" ry="5.5" fill="#ED7D31" stroke="#B0561A" stroke-width="1.1"/>
<ellipse cx="256.0" cy="235.8" rx="5.8" ry="3.7" fill="#5B9BD5" stroke="#3A6C9C" stroke-width="1.1"/>
<ellipse cx="327.6" cy="249.6" rx="3.8" ry="3.1" fill="#5B9BD5" stroke="#3A6C9C" stroke-width="1.1"/>
<ellipse cx="252.5" cy="264.1" rx="5.8" ry="4.0" fill="#ED7D31" stroke="#B0561A" stroke-width="1.1"/>
<ellipse cx="287.0" cy="264.1" rx="5.8" ry="4.0" fill="#5B9BD5" stroke="#3A6C9C" stroke-width="1.1"/>
<ellipse cx="328.8" cy="278.8" rx="5.8" ry="4.2" fill="#5B9BD5" stroke="#3A6C9C" stroke-width="1.1"/>
<ellipse cx="323.7" cy="278.8" rx="5.9" ry="3.9" fill="#ED7D31" stroke="#B0561A" stroke-width="1.1"/>
<ellipse cx="322.7" cy="291.5" rx="5.7" ry="3.8" fill="#5B9BD5" stroke="#3A6C9C" stroke-width="1.1"/>
<ellipse cx="323.8" cy="305.1" rx="12.6" ry="6.8" fill="#5B9BD5" stroke="#3A6C9C" stroke-width="1.1"/>
<ellipse cx="329.5" cy="305.1" rx="13.2" ry="6.9" fill="#ED7D31" stroke="#B0561A" stroke-width="1.1"/>
<text x="210.0" y="332.1" textLength="16.7" lengthAdjust="spacingAndGlyphs" font-size="10.5" font-weight="normal" fill="#262626" stroke="#262626" stroke-width="0.2" >-16</text>
<text x="247.4" y="332.1" textLength="16.4" lengthAdjust="spacingAndGlyphs" font-size="10.5" font-weight="normal" fill="#262626" stroke="#262626" stroke-width="0.2" >-12</text>
<text x="288.3" y="332.1" textLength="9.8" lengthAdjust="spacingAndGlyphs" font-size="10.5" font-weight="normal" fill="#262626" stroke="#262626" stroke-width="0.2" >-8</text>
<text x="325.4" y="332.1" textLength="8.8" lengthAdjust="spacingAndGlyphs" font-size="10.5" font-weight="normal" fill="#262626" stroke="#262626" stroke-width="0.2" >-4</text>
<text x="364.8" y="332.1" textLength="5.4" lengthAdjust="spacingAndGlyphs" font-size="10.5" font-weight="normal" fill="#262626" stroke="#262626" stroke-width="0.2" >0</text>
<text x="399.8" y="332.1" textLength="8.0" lengthAdjust="spacingAndGlyphs" font-size="10.5" font-weight="normal" fill="#262626" stroke="#262626" stroke-width="0.2" >-4</text>
<text x="436.9" y="332.1" textLength="8.3" lengthAdjust="spacingAndGlyphs" font-size="10.5" font-weight="normal" fill="#262626" stroke="#262626" stroke-width="0.2" >-8</text>
<text x="468.6" y="332.1" textLength="16.1" lengthAdjust="spacingAndGlyphs" font-size="10.5" font-weight="normal" fill="#262626" stroke="#262626" stroke-width="0.2" >-12</text>
<text x="503.1" y="332.1" textLength="15.6" lengthAdjust="spacingAndGlyphs" font-size="10.5" font-weight="normal" fill="#262626" stroke="#262626" stroke-width="0.2" >-16</text>
<text x="338.5" y="344.5" font-size="12.8" fill="#262626" stroke="#262626" stroke-width="0.15" textLength="85.3" lengthAdjust="spacingAndGlyphs">P-value (log<tspan font-size="9" dy="3.2">10</tspan><tspan dy="-3.2">)</tspan></text>
<text x="266.4" y="360.3" textLength="85.3" lengthAdjust="spacingAndGlyphs" font-size="10.8" font-weight="bold" fill="#111" >Down-regulated</text>
<text x="417.3" y="360.3" textLength="68.6" lengthAdjust="spacingAndGlyphs" font-size="10.8" font-weight="bold" fill="#111" >Up-regulated</text>
<line x1="750.4" y1="35.0" x2="750.4" y2="314.2" stroke="#D9D9D9" stroke-width="1.2"/>
<line x1="787.3" y1="35.0" x2="787.3" y2="314.2" stroke="#D9D9D9" stroke-width="1.2"/>
<line x1="824.1" y1="35.0" x2="824.1" y2="314.2" stroke="#D9D9D9" stroke-width="1.2"/>
<line x1="861.0" y1="35.0" x2="861.0" y2="314.2" stroke="#D9D9D9" stroke-width="1.2"/>
<line x1="897.8" y1="35.0" x2="897.8" y2="314.2" stroke="#D9D9D9" stroke-width="1.2"/>
<line x1="934.7" y1="35.0" x2="934.7" y2="314.2" stroke="#D9D9D9" stroke-width="1.2"/>
<line x1="971.6" y1="35.0" x2="971.6" y2="314.2" stroke="#D9D9D9" stroke-width="1.2"/>
<line x1="1008.4" y1="35.0" x2="1008.4" y2="314.2" stroke="#D9D9D9" stroke-width="1.2"/>
<line x1="1045.3" y1="35.0" x2="1045.3" y2="314.2" stroke="#D9D9D9" stroke-width="1.2"/>
<line x1="750.4" y1="314.2" x2="1045.3" y2="314.2" stroke="#CFCFCF" stroke-width="1.5"/>
<ellipse cx="946.5" cy="43.2" rx="9.7" ry="5.4" fill="#ED7D31" stroke="#B0561A" stroke-width="1.1"/>
<ellipse cx="960.1" cy="55.5" rx="5.6" ry="3.9" fill="#5B9BD5" stroke="#3A6C9C" stroke-width="1.1"/>
<ellipse cx="967.1" cy="55.5" rx="5.6" ry="3.9" fill="#ED7D31" stroke="#B0561A" stroke-width="1.1"/>
<ellipse cx="980.2" cy="70.9" rx="5.5" ry="4.1" fill="#5B9BD5" stroke="#3A6C9C" stroke-width="1.1"/>
<ellipse cx="1003.3" cy="70.9" rx="5.7" ry="4.1" fill="#ED7D31" stroke="#B0561A" stroke-width="1.1"/>
<ellipse cx="974.8" cy="84.3" rx="9.8" ry="5.5" fill="#ED7D31" stroke="#B0561A" stroke-width="1.1"/>
<ellipse cx="955.0" cy="100.3" rx="5.8" ry="4.0" fill="#ED7D31" stroke="#B0561A" stroke-width="1.1"/>
<ellipse cx="967.3" cy="100.3" rx="5.4" ry="4.0" fill="#5B9BD5" stroke="#3A6C9C" stroke-width="1.1"/>
<ellipse cx="985.6" cy="115.8" rx="8.8" ry="5.7" fill="#ED7D31" stroke="#B0561A" stroke-width="1.1"/>
<ellipse cx="999.9" cy="115.8" rx="9.5" ry="5.6" fill="#5B9BD5" stroke="#3A6C9C" stroke-width="1.1"/>
<ellipse cx="978.3" cy="129.7" rx="5.6" ry="3.9" fill="#ED7D31" stroke="#B0561A" stroke-width="1.1"/>
<ellipse cx="999.0" cy="129.7" rx="5.8" ry="3.9" fill="#5B9BD5" stroke="#3A6C9C" stroke-width="1.1"/>
<ellipse cx="974.1" cy="143.1" rx="5.8" ry="3.9" fill="#5B9BD5" stroke="#3A6C9C" stroke-width="1.1"/>
<ellipse cx="988.4" cy="143.1" rx="5.6" ry="3.9" fill="#ED7D31" stroke="#B0561A" stroke-width="1.1"/>
<ellipse cx="958.6" cy="158.1" rx="6.0" ry="3.9" fill="#5B9BD5" stroke="#3A6C9C" stroke-width="1.1"/>
<ellipse cx="976.3" cy="158.1" rx="9.7" ry="5.6" fill="#ED7D31" stroke="#B0561A" stroke-width="1.1"/>
<ellipse cx="968.5" cy="172.5" rx="6.0" ry="3.9" fill="#ED7D31" stroke="#B0561A" stroke-width="1.1"/>
<ellipse cx="964.1" cy="188.4" rx="3.9" ry="3.1" fill="#ED7D31" stroke="#B0561A" stroke-width="1.1"/>
<ellipse cx="959.5" cy="203.6" rx="5.8" ry="3.8" fill="#5B9BD5" stroke="#3A6C9C" stroke-width="1.1"/>
<ellipse cx="962.4" cy="217.1" rx="5.8" ry="3.9" fill="#5B9BD5" stroke="#3A6C9C" stroke-width="1.1"/>
<ellipse cx="964.4" cy="232.1" rx="5.8" ry="3.9" fill="#ED7D31" stroke="#B0561A" stroke-width="1.1"/>
<ellipse cx="974.8" cy="232.1" rx="5.8" ry="3.9" fill="#5B9BD5" stroke="#3A6C9C" stroke-width="1.1"/>
<ellipse cx="787.0" cy="248.9" rx="5.8" ry="3.9" fill="#ED7D31" stroke="#B0561A" stroke-width="1.1"/>
<ellipse cx="801.3" cy="248.9" rx="5.8" ry="3.9" fill="#5B9BD5" stroke="#3A6C9C" stroke-width="1.1"/>
<ellipse cx="862.8" cy="263.8" rx="13.5" ry="7.2" fill="#ED7D31" stroke="#B0561A" stroke-width="1.1"/>
<ellipse cx="798.8" cy="278.3" rx="4.1" ry="3.1" fill="#ED7D31" stroke="#B0561A" stroke-width="1.1"/>
<ellipse cx="818.1" cy="278.3" rx="3.9" ry="3.1" fill="#5B9BD5" stroke="#3A6C9C" stroke-width="1.1"/>
<ellipse cx="853.7" cy="293.9" rx="5.5" ry="3.9" fill="#ED7D31" stroke="#B0561A" stroke-width="1.1"/>
<ellipse cx="861.8" cy="293.9" rx="5.3" ry="3.9" fill="#5B9BD5" stroke="#3A6C9C" stroke-width="1.1"/>
<ellipse cx="859.4" cy="306.8" rx="5.5" ry="3.9" fill="#5B9BD5" stroke="#3A6C9C" stroke-width="1.1"/>
<text x="740.5" y="331.3" textLength="15.8" lengthAdjust="spacingAndGlyphs" font-size="10.5" font-weight="normal" fill="#262626" stroke="#262626" stroke-width="0.2" >-16</text>
<text x="775.6" y="331.3" textLength="17.8" lengthAdjust="spacingAndGlyphs" font-size="10.5" font-weight="normal" fill="#262626" stroke="#262626" stroke-width="0.2" >-12</text>
<text x="816.5" y="331.3" textLength="11.0" lengthAdjust="spacingAndGlyphs" font-size="10.5" font-weight="normal" fill="#262626" stroke="#262626" stroke-width="0.2" >-8</text>
<text x="854.2" y="331.3" textLength="11.8" lengthAdjust="spacingAndGlyphs" font-size="10.5" font-weight="normal" fill="#262626" stroke="#262626" stroke-width="0.2" >-4</text>
<text x="894.2" y="331.3" textLength="6.8" lengthAdjust="spacingAndGlyphs" font-size="10.5" font-weight="normal" fill="#262626" stroke="#262626" stroke-width="0.2" >0</text>
<text x="927.7" y="331.3" textLength="11.0" lengthAdjust="spacingAndGlyphs" font-size="10.5" font-weight="normal" fill="#262626" stroke="#262626" stroke-width="0.2" >-4</text>
<text x="966.9" y="331.3" textLength="11.2" lengthAdjust="spacingAndGlyphs" font-size="10.5" font-weight="normal" fill="#262626" stroke="#262626" stroke-width="0.2" >-8</text>
<text x="999.5" y="331.3" textLength="16.3" lengthAdjust="spacingAndGlyphs" font-size="10.5" font-weight="normal" fill="#262626" stroke="#262626" stroke-width="0.2" >-12</text>
<text x="1032.0" y="331.3" textLength="16.4" lengthAdjust="spacingAndGlyphs" font-size="10.5" font-weight="normal" fill="#262626" stroke="#262626" stroke-width="0.2" >-16</text>
<text x="868.1" y="344.7" font-size="12.8" fill="#262626" stroke="#262626" stroke-width="0.15" textLength="86.0" lengthAdjust="spacingAndGlyphs">P-value (log<tspan font-size="9" dy="3.2">10</tspan><tspan dy="-3.2">)</tspan></text>
<text x="794.9" y="360.1" textLength="86.0" lengthAdjust="spacingAndGlyphs" font-size="10.8" font-weight="bold" fill="#111" >Down-regulated</text>
<text x="947.6" y="360.1" textLength="69.7" lengthAdjust="spacingAndGlyphs" font-size="10.8" font-weight="bold" fill="#111" >Up-regulated</text>
<line x1="427.3" y1="413.7" x2="427.3" y2="695.3" stroke="#D9D9D9" stroke-width="1.2"/>
<line x1="464.3" y1="413.7" x2="464.3" y2="695.3" stroke="#D9D9D9" stroke-width="1.2"/>
<line x1="501.4" y1="413.7" x2="501.4" y2="695.3" stroke="#D9D9D9" stroke-width="1.2"/>
<line x1="538.4" y1="413.7" x2="538.4" y2="695.3" stroke="#D9D9D9" stroke-width="1.2"/>
<line x1="575.4" y1="413.7" x2="575.4" y2="695.3" stroke="#D9D9D9" stroke-width="1.2"/>
<line x1="612.5" y1="413.7" x2="612.5" y2="695.3" stroke="#D9D9D9" stroke-width="1.2"/>
<line x1="649.5" y1="413.7" x2="649.5" y2="695.3" stroke="#D9D9D9" stroke-width="1.2"/>
<line x1="686.5" y1="413.7" x2="686.5" y2="695.3" stroke="#D9D9D9" stroke-width="1.2"/>
<line x1="723.5" y1="413.7" x2="723.5" y2="695.3" stroke="#D9D9D9" stroke-width="1.2"/>
<line x1="427.3" y1="695.3" x2="723.5" y2="695.3" stroke="#CFCFCF" stroke-width="1.5"/>
<ellipse cx="660.0" cy="419.9" rx="5.3" ry="3.5" fill="#5B9BD5" stroke="#3A6C9C" stroke-width="1.1"/>
<ellipse cx="671.5" cy="419.9" rx="5.6" ry="3.5" fill="#ED7D31" stroke="#B0561A" stroke-width="1.1"/>
<ellipse cx="643.2" cy="431.9" rx="5.6" ry="3.6" fill="#5B9BD5" stroke="#3A6C9C" stroke-width="1.1"/>
<ellipse cx="655.0" cy="431.9" rx="5.4" ry="3.6" fill="#ED7D31" stroke="#B0561A" stroke-width="1.1"/>
<ellipse cx="643.7" cy="443.0" rx="9.5" ry="4.8" fill="#5B9BD5" stroke="#3A6C9C" stroke-width="1.1"/>
<ellipse cx="630.6" cy="455.3" rx="4.9" ry="3.6" fill="#5B9BD5" stroke="#3A6C9C" stroke-width="1.1"/>
<ellipse cx="641.1" cy="455.3" rx="5.3" ry="3.6" fill="#ED7D31" stroke="#B0561A" stroke-width="1.1"/>
<ellipse cx="636.3" cy="467.3" rx="4.9" ry="3.6" fill="#ED7D31" stroke="#B0561A" stroke-width="1.1"/>
<ellipse cx="644.9" cy="467.3" rx="5.6" ry="3.6" fill="#5B9BD5" stroke="#3A6C9C" stroke-width="1.1"/>
<ellipse cx="646.5" cy="480.3" rx="6.1" ry="3.7" fill="#5B9BD5" stroke="#3A6C9C" stroke-width="1.1"/>
<ellipse cx="640.6" cy="492.4" rx="5.9" ry="3.6" fill="#5B9BD5" stroke="#3A6C9C" stroke-width="1.1"/>
<ellipse cx="656.6" cy="492.4" rx="9.5" ry="5.0" fill="#ED7D31" stroke="#B0561A" stroke-width="1.1"/>
<ellipse cx="652.1" cy="505.4" rx="5.9" ry="3.6" fill="#ED7D31" stroke="#B0561A" stroke-width="1.1"/>
<ellipse cx="641.5" cy="517.6" rx="5.3" ry="3.9" fill="#5B9BD5" stroke="#3A6C9C" stroke-width="1.1"/>
<ellipse cx="650.3" cy="517.6" rx="5.5" ry="3.9" fill="#ED7D31" stroke="#B0561A" stroke-width="1.1"/>
<ellipse cx="643.3" cy="530.6" rx="5.2" ry="3.9" fill="#5B9BD5" stroke="#3A6C9C" stroke-width="1.1"/>
<ellipse cx="654.4" cy="530.6" rx="5.8" ry="3.9" fill="#ED7D31" stroke="#B0561A" stroke-width="1.1"/>
<ellipse cx="651.8" cy="542.3" rx="5.6" ry="3.6" fill="#ED7D31" stroke="#B0561A" stroke-width="1.1"/>
<ellipse cx="651.2" cy="554.2" rx="5.6" ry="3.9" fill="#5B9BD5" stroke="#3A6C9C" stroke-width="1.1"/>
<ellipse cx="660.3" cy="554.2" rx="5.6" ry="3.9" fill="#ED7D31" stroke="#B0561A" stroke-width="1.1"/>
<ellipse cx="537.0" cy="566.6" rx="5.6" ry="3.6" fill="#ED7D31" stroke="#B0561A" stroke-width="1.1"/>
<ellipse cx="534.6" cy="578.7" rx="9.9" ry="5.1" fill="#ED7D31" stroke="#B0561A" stroke-width="1.1"/>
<ellipse cx="466.9" cy="591.0" rx="5.9" ry="3.4" fill="#5B9BD5" stroke="#3A6C9C" stroke-width="1.1"/>
<ellipse cx="536.0" cy="604.1" rx="3.9" ry="2.6" fill="#ED7D31" stroke="#B0561A" stroke-width="1.1"/>
<ellipse cx="538.7" cy="617.6" rx="11.6" ry="6.6" fill="#ED7D31" stroke="#B0561A" stroke-width="1.1"/>
<ellipse cx="532.0" cy="617.6" rx="11.3" ry="6.6" fill="#5B9BD5" stroke="#3A6C9C" stroke-width="1.1"/>
<ellipse cx="483.5" cy="630.4" rx="5.6" ry="3.9" fill="#5B9BD5" stroke="#3A6C9C" stroke-width="1.1"/>
<ellipse cx="537.5" cy="641.5" rx="5.8" ry="3.8" fill="#5B9BD5" stroke="#3A6C9C" stroke-width="1.1"/>
<ellipse cx="529.9" cy="641.5" rx="5.9" ry="3.7" fill="#ED7D31" stroke="#B0561A" stroke-width="1.1"/>
<ellipse cx="529.5" cy="653.0" rx="5.8" ry="3.6" fill="#ED7D31" stroke="#B0561A" stroke-width="1.1"/>
<ellipse cx="532.0" cy="664.1" rx="3.9" ry="2.9" fill="#ED7D31" stroke="#B0561A" stroke-width="1.1"/>
<ellipse cx="535.0" cy="677.2" rx="13.5" ry="6.4" fill="#5B9BD5" stroke="#3A6C9C" stroke-width="1.1"/>
<ellipse cx="536.4" cy="689.6" rx="3.9" ry="3.2" fill="#5B9BD5" stroke="#3A6C9C" stroke-width="1.1"/>
<ellipse cx="531.5" cy="689.6" rx="4.0" ry="3.3" fill="#ED7D31" stroke="#B0561A" stroke-width="1.1"/>
<text x="416.3" y="711.2" textLength="17.2" lengthAdjust="spacingAndGlyphs" font-size="10.5" font-weight="normal" fill="#262626" stroke="#262626" stroke-width="0.2" >-16</text>
<text x="452.3" y="711.2" textLength="18.9" lengthAdjust="spacingAndGlyphs" font-size="10.5" font-weight="normal" fill="#262626" stroke="#262626" stroke-width="0.2" >-12</text>
<text x="494.7" y="711.2" textLength="11.0" lengthAdjust="spacingAndGlyphs" font-size="10.5" font-weight="normal" fill="#262626" stroke="#262626" stroke-width="0.2" >-8</text>
<text x="531.7" y="711.2" textLength="11.6" lengthAdjust="spacingAndGlyphs" font-size="10.5" font-weight="normal" fill="#262626" stroke="#262626" stroke-width="0.2" >-4</text>
<text x="572.5" y="711.2" textLength="6.9" lengthAdjust="spacingAndGlyphs" font-size="10.5" font-weight="normal" fill="#262626" stroke="#262626" stroke-width="0.2" >0</text>
<text x="606.0" y="711.2" textLength="11.0" lengthAdjust="spacingAndGlyphs" font-size="10.5" font-weight="normal" fill="#262626" stroke="#262626" stroke-width="0.2" >-4</text>
<text x="643.7" y="711.2" textLength="11.6" lengthAdjust="spacingAndGlyphs" font-size="10.5" font-weight="normal" fill="#262626" stroke="#262626" stroke-width="0.2" >-8</text>
<text x="678.2" y="711.2" textLength="17.2" lengthAdjust="spacingAndGlyphs" font-size="10.5" font-weight="normal" fill="#262626" stroke="#262626" stroke-width="0.2" >-12</text>
<text x="712.7" y="711.2" textLength="17.3" lengthAdjust="spacingAndGlyphs" font-size="10.5" font-weight="normal" fill="#262626" stroke="#262626" stroke-width="0.2" >-16</text>
<text x="545.5" y="723.9" font-size="12.8" fill="#262626" stroke="#262626" stroke-width="0.15" textLength="87.2" lengthAdjust="spacingAndGlyphs">P-value (log<tspan font-size="9" dy="3.2">10</tspan><tspan dy="-3.2">)</tspan></text>
<text x="472.7" y="738.9" textLength="86.3" lengthAdjust="spacingAndGlyphs" font-size="10.8" font-weight="bold" fill="#111" >Down-regulated</text>
<text x="625.8" y="738.9" textLength="70.3" lengthAdjust="spacingAndGlyphs" font-size="10.8" font-weight="bold" fill="#111" >Up-regulated</text>
<circle cx="797.0" cy="441.0" r="6.9" fill="none" stroke="#C85A6C" stroke-width="0.9"/>
<line x1="797.0" y1="447.8" x2="797.0" y2="451.5" stroke="#B52035" stroke-width="1.1"/>
<path d="M794.9 450.6 L799.3 450.6 L797 453.4 Z" fill="#B0102A"/>
<circle cx="825.6" cy="443.0" r="7.0" fill="none" stroke="#7C93B0" stroke-width="0.9"/>
<line x1="830.6" y1="438.2" x2="834.6" y2="434.8" stroke="#5F86B8" stroke-width="1.0"/>
<path d="M836.2 433.2 L833.0 434.2 L835.2 436.4 Z" fill="#4F7FB8"/>
<text x="756.1" y="467.7" textLength="23.8" lengthAdjust="spacingAndGlyphs" font-size="9.0" font-weight="normal" fill="#262626" stroke="#262626" stroke-width="0.3" >&lt;0.05</text>
<ellipse cx="797.5" cy="465.2" rx="3.9" ry="2.6" fill="#5B9BD5" stroke="#3A6C9C" stroke-width="1.1"/>
<ellipse cx="826.8" cy="465.2" rx="3.9" ry="2.6" fill="#ED7D31" stroke="#B0561A" stroke-width="1.1"/>
<text x="737.9" y="485.3" textLength="42.0" lengthAdjust="spacingAndGlyphs" font-size="9.0" font-weight="normal" fill="#262626" stroke="#262626" stroke-width="0.3" >0.05-0.09</text>
<ellipse cx="797.5" cy="482.5" rx="6.0" ry="3.6" fill="#5B9BD5" stroke="#3A6C9C" stroke-width="1.1"/>
<ellipse cx="826.8" cy="482.5" rx="6.0" ry="3.6" fill="#ED7D31" stroke="#B0561A" stroke-width="1.1"/>
<text x="743.6" y="503.2" textLength="36.3" lengthAdjust="spacingAndGlyphs" font-size="9.0" font-weight="normal" fill="#262626" stroke="#262626" stroke-width="0.3" >0.1-0.19</text>
<ellipse cx="797.5" cy="500.0" rx="9.8" ry="5.3" fill="#5B9BD5" stroke="#3A6C9C" stroke-width="1.1"/>
<ellipse cx="826.8" cy="500.0" rx="9.8" ry="5.3" fill="#ED7D31" stroke="#B0561A" stroke-width="1.1"/>
<text x="743.6" y="520.5" textLength="36.3" lengthAdjust="spacingAndGlyphs" font-size="9.0" font-weight="normal" fill="#262626" stroke="#262626" stroke-width="0.3" >0.2-0.29</text>
<ellipse cx="797.5" cy="517.1" rx="11.8" ry="6.4" fill="#5B9BD5" stroke="#3A6C9C" stroke-width="1.1"/>
<ellipse cx="826.8" cy="517.1" rx="11.8" ry="6.4" fill="#ED7D31" stroke="#B0561A" stroke-width="1.1"/>
<text x="761.8" y="538.4" textLength="18.1" lengthAdjust="spacingAndGlyphs" font-size="9.0" font-weight="normal" fill="#262626" stroke="#262626" stroke-width="0.3" >&gt;0.3</text>
<ellipse cx="797.5" cy="535.0" rx="13.6" ry="7.5" fill="#5B9BD5" stroke="#3A6C9C" stroke-width="1.1"/>
<ellipse cx="826.8" cy="535.0" rx="13.6" ry="7.5" fill="#ED7D31" stroke="#B0561A" stroke-width="1.1"/>
</svg>
</body></html>
